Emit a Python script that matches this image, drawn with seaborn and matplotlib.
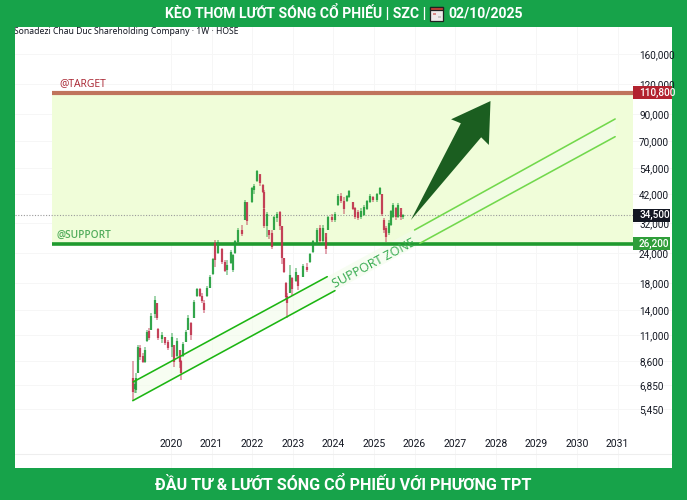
import matplotlib
matplotlib.use("Agg")
import matplotlib.pyplot as plt
import matplotlib.patches as mpatches
import numpy as np
import pandas as pd
import seaborn as sns

# gia doc tu hinh, moi cay nen gom vai tuan
bar_years = [2019.06, 2019.11, 2019.15, 2019.19, 2019.24, 2019.30, 2019.36, 2019.40, 2019.47, 2019.52,
             2019.61, 2019.65, 2019.69, 2019.77, 2019.85, 2019.93, 2020.02, 2020.08, 2020.14, 2020.22,
             2020.26, 2020.30, 2020.36, 2020.43, 2020.49, 2020.57, 2020.63, 2020.71, 2020.77, 2020.82,
             2020.89, 2020.96, 2021.03, 2021.08, 2021.17, 2021.25, 2021.33, 2021.39, 2021.47, 2021.53,
             2021.59, 2021.66, 2021.74, 2021.83, 2021.88, 2021.99, 2022.05, 2022.13, 2022.19, 2022.26,
             2022.28, 2022.30, 2022.36, 2022.41, 2022.48, 2022.54, 2022.62, 2022.69, 2022.74, 2022.79,
             2022.83, 2022.86, 2022.93, 2022.99, 2023.07, 2023.13, 2023.26, 2023.34, 2023.42, 2023.50,
             2023.59, 2023.67, 2023.74, 2023.81, 2023.87, 2023.96, 2024.04, 2024.12, 2024.20, 2024.27,
             2024.33, 2024.39, 2024.48, 2024.54, 2024.60, 2024.67, 2024.75, 2024.84, 2024.90, 2024.98,
             2025.07, 2025.15, 2025.21, 2025.25, 2025.29, 2025.36, 2025.41, 2025.48, 2025.54, 2025.60,
             2025.66, 2025.72]
bar_open = [7300, 6600, 6500, 7700, 9700, 9000, 8500, 10400, 11400, 11600,
            13400, 15000, 11700, 10600, 10800, 10300, 9800, 10000, 9000, 9500,
            8600, 9000, 10300, 11600, 12300, 13000, 16000, 17000, 16000, 15000,
            16000, 17300, 19600, 26500, 24000, 25000, 22000, 20400, 21800, 20500,
            24000, 26600, 30000, 33000, 39000, 39000, 44000, 47800, 51000, 46000,
            43000, 36500, 31000, 30000, 29000, 30000, 33500, 35500, 31000, 23000,
            18000, 16000, 16500, 19000, 18500, 19500, 19200, 21000, 22000, 24200,
            26300, 30500, 27000, 29000, 30000, 33800, 32800, 38000, 41500, 39500,
            39500, 41000, 39000, 36800, 35500, 33800, 34500, 36500, 39000, 41000,
            39800, 42000, 42000, 33000, 30500, 29000, 31500, 34000, 37000, 34000,
            37000, 33800]
bar_high = [8590, 7170, 7650, 10000, 10000, 9250, 9800, 11550, 11800, 13570,
            15980, 14900, 11800, 11300, 10850, 10500, 11180, 9550, 10700, 8920,
            8680, 10300, 11550, 13300, 12450, 15370, 17240, 17240, 16400, 15370,
            17500, 19500, 23000, 27210, 27210, 25200, 22490, 22490, 24740, 23900,
            27210, 30500, 31400, 39830, 38700, 45100, 46300, 53000, 50500, 46300,
            43800, 36900, 35500, 29930, 29930, 34300, 35500, 36000, 31000, 23000,
            18200, 16400, 21500, 19100, 20800, 19500, 21600, 21900, 24100, 27210,
            30500, 31400, 31400, 28000, 34300, 35000, 35500, 42000, 42400, 40900,
            41800, 43800, 39200, 37200, 36200, 36900, 37900, 39830, 42000, 41400,
            42400, 45100, 42000, 33600, 31100, 32900, 36200, 38700, 37200, 38700,
            35500, 35000]
bar_low = [5930, 6310, 6310, 7650, 8680, 8420, 8420, 10300, 10500, 11550,
           13000, 12700, 10500, 10200, 10000, 9550, 8920, 8130, 8920, 8050,
           7170, 8920, 10300, 11550, 10500, 12900, 15810, 15810, 14900, 13570,
           15810, 17240, 19500, 21000, 23900, 21650, 20050, 19500, 21650, 20050,
           23900, 26450, 28300, 32920, 31400, 38700, 42000, 47500, 45700, 42400,
           36200, 30500, 28000, 27500, 24950, 29930, 32300, 29930, 21700, 19800,
           15370, 13000, 16400, 16000, 18200, 16900, 19100, 20050, 21900, 24100,
           26100, 26450, 26450, 23900, 29930, 32300, 32300, 37600, 38700, 35000,
           39200, 40500, 36200, 33300, 32900, 33300, 34300, 36200, 38700, 39200,
           39200, 41800, 34300, 29000, 26700, 28600, 31100, 33600, 32900, 33600,
           32900, 33300]
bar_close = [6400, 6900, 7300, 9800, 8900, 8500, 9500, 11300, 10700, 13200,
             15400, 13000, 10700, 11000, 10200, 9700, 10800, 8500, 10400, 8500,
             7700, 10100, 11300, 13000, 11000, 15100, 17000, 16000, 15200, 14000,
             17200, 19200, 22700, 22500, 26800, 22000, 20300, 21500, 24300, 23500,
             26900, 30000, 28700, 39000, 32500, 44500, 45500, 52500, 47000, 43000,
             37000, 31000, 35000, 28500, 25500, 33900, 35000, 31000, 23000, 20000,
             15800, 15000, 19500, 17000, 20000, 17500, 21200, 20500, 23900, 27000,
             30000, 27000, 30500, 25000, 33800, 33000, 35000, 41500, 39500, 36500,
             41500, 43400, 36500, 34000, 33500, 36000, 37300, 39300, 41500, 39700,
             42000, 44700, 35000, 30000, 28000, 32000, 35700, 38000, 34000, 37800,
             33800, 34500]

target_price = 110800
last_price = 34500
support_price = 26200

y_ticks = [160000, 120000, 90000, 70000, 54000, 42000, 32000, 24000, 18000, 14000, 11000, 8600, 6850, 5450]
x_ticks = [2020, 2021, 2022, 2023, 2024, 2025, 2026, 2027, 2028, 2029, 2030, 2031]

zone_years = [2017.07, 2031.38]
channel_years = [2019.06, 2030.94]
channel_upper = [7040, 86160]
channel_lower = [5890, 72800]
line1_years = [2019.07, 2023.85]
line1_prices = [7040, 19190]
line2_years = [2019.06, 2024.04]
line2_prices = [5890, 16800]
line3_years = [2026.00, 2030.94]
line3_prices = [29930, 86160]
line4_years = [2026.13, 2030.94]
line4_prices = [26370, 72800]
arrow_years = [2025.91, 2027.14, 2026.90, 2027.87, 2027.83, 2027.64]
arrow_prices = [32920, 82700, 85900, 102200, 67270, 72370]

GREEN_BG = "#17a34a"
CANDLE_UP = "#1f9d3a"
CANDLE_DOWN = "#bf2f4a"

sns.set_theme(style="white")
plt.rcParams["font.family"] = ["Roboto", "DejaVu Sans"]

W, H = 687, 500
fig = plt.figure(figsize=(W / 100, H / 100), dpi=100, facecolor=GREEN_BG)
ax = fig.add_axes([15 / W, (H - 468) / H, (672 - 15) / W, (468 - 27) / H], facecolor="white")
ax.set_yscale("log")
ax.set_xlim(2016.16, 2032.34)
ax.set_ylim(3102, 206900)
for s in ax.spines.values():
    s.set_visible(False)

ax.set_yticks(y_ticks)
ax.set_yticklabels([f"{v:,}" for v in y_ticks])
ax.minorticks_off()
ax.yaxis.tick_right()
ax.tick_params(axis="y", length=0, pad=-33 * 0.72, labelsize=7.2, labelcolor="#131722")
ax.set_xticks(x_ticks)
ax.set_xticklabels([str(v) for v in x_ticks])
ax.tick_params(axis="x", length=0, pad=-29 * 0.72, labelsize=7.5, labelcolor="#131722")
ax.grid(True, color="#f6f6f6", lw=0.7)
ax.set_axisbelow(True)

# vung muc tieu va vung ho tro
ax.fill_between(zone_years, support_price, target_price, color="#f0fdd9", lw=0, zorder=1)
ax.fill_between(channel_years, channel_lower, channel_upper, color="#f2fcea", alpha=0.6, lw=0, zorder=1.2)
ax.axhline(last_price, xmax=(2031.38 - 2016.16) / (2032.34 - 2016.16), color="#9a9a9a", lw=0.8, ls=(0, (1, 1.5)), zorder=2)
ax.plot(zone_years, [target_price] * 2, color="#c0745c", lw=3, solid_capstyle="butt", zorder=3)
ax.plot(zone_years, [support_price] * 2, color="#1f9a2e", lw=2.6, solid_capstyle="butt", zorder=3)

# nen tuan
candles = pd.DataFrame({"year": bar_years, "open": bar_open, "high": bar_high, "low": bar_low, "close": bar_close})
colors = np.where(candles["close"] >= candles["open"], CANDLE_UP, CANDLE_DOWN)
ax.vlines(candles["year"], candles["low"], candles["high"], colors=colors, lw=1.2, alpha=0.5, zorder=4)
ax.vlines(candles["year"], candles[["open", "close"]].min(axis=1), candles[["open", "close"]].max(axis=1),
          colors=colors, lw=1.6, alpha=0.85, zorder=4.5)

# kenh xu huong
for xs, ys, col in [(line1_years, line1_prices, "#1cb512"), (line2_years, line2_prices, "#1cb512"),
                    (line3_years, line3_prices, "#72d84c"), (line4_years, line4_prices, "#72d84c")]:
    sns.lineplot(x=xs, y=ys, color=col, lw=1.15, legend=False, ax=ax, zorder=5, errorbar=None)

ax.add_patch(mpatches.Polygon(np.column_stack([arrow_years, arrow_prices]), closed=True,
                              facecolor="#1b5e20", edgecolor="none", zorder=6))

ax.text(2024.99, 21850, "SUPPORT ZONE", rotation=28, rotation_mode="anchor", ha="center", va="center",
        fontsize=9, color="#35aa4e", family="Open Sans", zorder=6)
ax.text(2017.25, target_price * 1.085, "@TARGET", color="#a8222f", fontsize=7.5, family="Open Sans", va="center", zorder=6)
ax.text(2017.18, support_price * 1.085, "@SUPPORT", color="#52ad5c", fontsize=7.3, family="Open Sans", va="center",
        fontweight="semibold", zorder=6)

# nhan gia ben phai
for price, label, bg, right in [(target_price, "110,800", "#b2222f", 2032.34), (last_price, "34,500", "#131722", 2032.29),
                                (support_price, "26,200", "#2f9e3a", 2032.29)]:
    ax.fill_between([2031.38, right], price * 0.94, price * 1.064, color=bg, lw=0, zorder=7)
    ax.text(2031.53, price, label, color="white", fontsize=7.2, fontweight="medium", va="center", ha="left", zorder=8)

ax.axhline(3102 * 1.14, color="#eeeeee", lw=0.8, zorder=1)
ax.text(-0.002, 1 - 5 / 441, "Sonadezi Chau Duc Shareholding Company · 1W · HOSE", transform=ax.transAxes,
        fontsize=6.2, family="Noto Sans", color="#131722", va="center", ha="left", clip_on=True)

# tieu de tren va duoi
fig.text(165 / W, 1 - 13 / H, "KÈO THƠM LƯỚT SÓNG CỔ PHIẾU | SZC |", color="white", fontsize=10.1,
         fontweight="bold", va="center", ha="left")
fig.text(448 / W, 1 - 13 / H, "02/10/2025", color="white", fontsize=10.1, fontweight="bold", va="center", ha="left")
fig.text(343 / W, 1 - 484 / H, "ĐẦU TƯ & LƯỚT SÓNG CỔ PHIẾU VỚI PHƯƠNG TPT", color="white", fontsize=11.6,
         fontweight="bold", va="center", ha="center")

# icon lich
def px_rect(x, y, w, h, **kw):
    fig.patches.append(mpatches.Rectangle((x / W, 1 - (y + h) / H), w / W, h / H, transform=fig.transFigure, **kw))

px_rect(430, 7, 13, 14, facecolor="#eeeaea", edgecolor="#222222", lw=0.9)
px_rect(430, 7, 13, 3, facecolor="#c9403a", edgecolor="#222222", lw=0.9)
px_rect(433, 13, 3, 2, facecolor="#d98c88", edgecolor="none")
px_rect(437.5, 16, 3, 2, facecolor="#c9c4c4", edgecolor="none")

fig.savefig("out.png", dpi=100, facecolor=fig.get_facecolor())
plt.close()
